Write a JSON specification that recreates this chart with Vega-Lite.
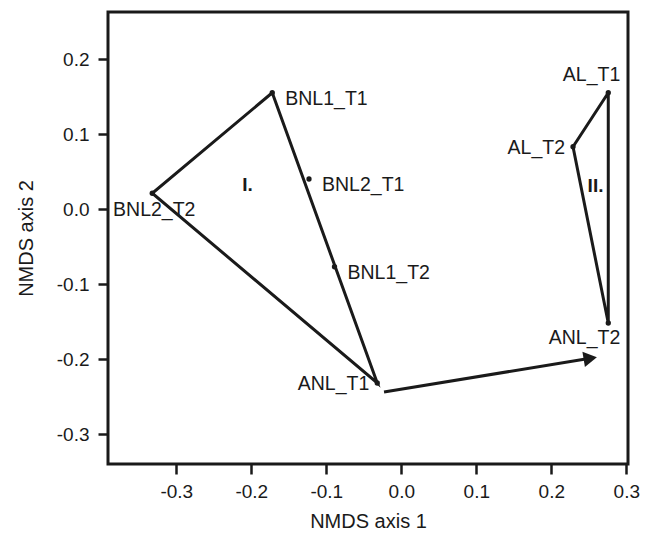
{
  "$schema": "https://vega.github.io/schema/vega-lite/v6.json",
  "width": 520,
  "height": 452,
  "autosize": {"type": "none"},
  "padding": {"left": 108, "top": 12, "right": 23, "bottom": 74},
  "background": "white",
  "config": {
    "font": "Liberation Sans",
    "view": {"stroke": "#1a1a1a", "strokeWidth": 3},
    "axis": {"grid": false, "domain": false, "tickColor": "#1a1a1a", "tickWidth": 2.5, "tickSize": 10, "labelColor": "#1a1a1a", "labelFontSize": 19, "titleColor": "#1a1a1a", "titleFontSize": 20, "titleFontWeight": "normal", "labelFont": "Liberation Sans", "titleFont": "Liberation Sans"}
  },
  "datasets": {
    "points": [
      {"name": "BNL1_T1", "x": -0.172, "y": 0.155},
      {"name": "BNL2_T2", "x": -0.332, "y": 0.021},
      {"name": "BNL2_T1", "x": -0.123, "y": 0.040},
      {"name": "BNL1_T2", "x": -0.089, "y": -0.077},
      {"name": "ANL_T1", "x": -0.032, "y": -0.232},
      {"name": "AL_T1", "x": 0.276, "y": 0.155},
      {"name": "AL_T2", "x": 0.229, "y": 0.083},
      {"name": "ANL_T2", "x": 0.276, "y": -0.152}
    ],
    "hulls": [
      {"group": "I", "order": 1, "x": -0.172, "y": 0.155},
      {"group": "I", "order": 2, "x": -0.332, "y": 0.021},
      {"group": "I", "order": 3, "x": -0.032, "y": -0.232},
      {"group": "I", "order": 4, "x": -0.172, "y": 0.155},
      {"group": "II", "order": 1, "x": 0.276, "y": 0.155},
      {"group": "II", "order": 2, "x": 0.229, "y": 0.083},
      {"group": "II", "order": 3, "x": 0.276, "y": -0.152},
      {"group": "II", "order": 4, "x": 0.276, "y": 0.155}
    ],
    "arrow": [
      {"order": 1, "x": -0.023, "y": -0.244},
      {"order": 2, "x": 0.252, "y": -0.199}
    ],
    "arrowhead": [
      {"x": 0.252, "y": -0.199}
    ],
    "groups": [
      {"label": "I.", "x": -0.205, "y": 0.032},
      {"label": "II.", "x": 0.259, "y": 0.031}
    ]
  },
  "encoding": {
    "x": {
      "field": "x", "type": "quantitative",
      "scale": {"domain": [-0.391, 0.3023], "nice": false, "zero": false},
      "axis": {"values": [-0.3, -0.2, -0.1, 0, 0.1, 0.2, 0.3], "labelExpr": "datum.value < 0 ? '-' + format(-datum.value, '.1f') : format(datum.value, '.1f')", "title": "NMDS axis 1", "labelPadding": 8, "titlePadding": 10}
    },
    "y": {
      "field": "y", "type": "quantitative",
      "scale": {"domain": [-0.34, 0.2627], "nice": false, "zero": false},
      "axis": {"values": [-0.3, -0.2, -0.1, 0, 0.1, 0.2], "labelExpr": "datum.value < 0 ? '-' + format(-datum.value, '.1f') : format(datum.value, '.1f')", "title": "NMDS axis 2", "labelPadding": 9, "titlePadding": 20}
    }
  },
  "layer": [
    {
      "data": {"name": "hulls"},
      "mark": {"type": "line", "color": "#1a1a1a", "strokeWidth": 3},
      "encoding": {"detail": {"field": "group"}, "order": {"field": "order", "type": "quantitative"}}
    },
    {
      "data": {"name": "arrow"},
      "mark": {"type": "line", "color": "#1a1a1a", "strokeWidth": 3},
      "encoding": {"order": {"field": "order", "type": "quantitative"}}
    },
    {
      "data": {"name": "arrowhead"},
      "mark": {"type": "point", "shape": "triangle-right", "filled": true, "color": "#1a1a1a", "opacity": 1, "size": 240, "angle": 350.7},
      "encoding": {}
    },
    {
      "data": {"name": "points"},
      "mark": {"type": "circle", "color": "#1a1a1a", "opacity": 1, "size": 28},
      "encoding": {}
    },
    {
      "data": {"name": "points"},
      "transform": [{"filter": {"field": "name", "oneOf": ["BNL1_T1", "BNL2_T1", "BNL1_T2"]}}],
      "mark": {"type": "text", "align": "left", "baseline": "middle", "dx": 13, "dy": 6, "fontSize": 19.5, "color": "#1a1a1a"},
      "encoding": {"text": {"field": "name"}}
    },
    {
      "data": {"name": "points"},
      "transform": [{"filter": {"field": "name", "oneOf": ["ANL_T1", "AL_T2"]}}],
      "mark": {"type": "text", "align": "right", "baseline": "middle", "dx": -8, "dy": 1, "fontSize": 19.5, "color": "#1a1a1a"},
      "encoding": {"text": {"field": "name"}}
    },
    {
      "data": {"name": "points"},
      "transform": [{"filter": {"field": "name", "equal": "AL_T1"}}],
      "mark": {"type": "text", "align": "right", "baseline": "middle", "dx": 12, "dy": -18, "fontSize": 19.5, "color": "#1a1a1a"},
      "encoding": {"text": {"field": "name"}}
    },
    {
      "data": {"name": "points"},
      "transform": [{"filter": {"field": "name", "equal": "ANL_T2"}}],
      "mark": {"type": "text", "align": "right", "baseline": "middle", "dx": 12, "dy": 15, "fontSize": 19.5, "color": "#1a1a1a"},
      "encoding": {"text": {"field": "name"}}
    },
    {
      "data": {"name": "points"},
      "transform": [{"filter": {"field": "name", "equal": "BNL2_T2"}}],
      "mark": {"type": "text", "align": "center", "baseline": "middle", "dx": 2, "dy": 17, "fontSize": 19.5, "color": "#1a1a1a"},
      "encoding": {"text": {"field": "name"}}
    },
    {
      "data": {"name": "groups"},
      "mark": {"type": "text", "align": "center", "baseline": "middle", "fontSize": 19, "fontWeight": "bold", "color": "#1a1a1a"},
      "encoding": {"text": {"field": "label"}}
    }
  ]
}
